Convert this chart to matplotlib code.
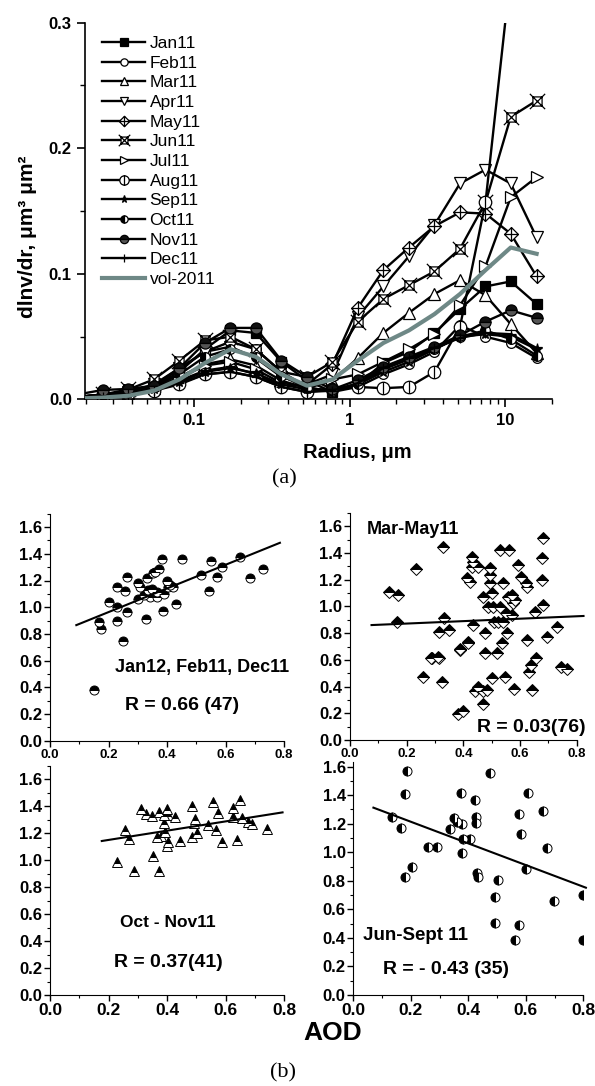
import numpy as np
import matplotlib
matplotlib.use('Agg')
import matplotlib.pyplot as plt
from matplotlib.path import Path
from matplotlib.ticker import MultipleLocator, LogLocator, NullFormatter, FixedLocator

plt.rcParams['font.family'] = ['Liberation Sans', 'DejaVu Sans']

# ---- (a) volume size distribution ----
radius = [0.0177, 0.0258, 0.0377, 0.0550, 0.0803, 0.117, 0.171, 0.249, 0.364, 0.532,
          0.776, 1.13, 1.65, 2.41, 3.52, 5.14, 7.50, 10.9, 16.0]

jan11 = [0.002, 0.004, 0.006, 0.010, 0.022, 0.040, 0.055, 0.053, 0.030, 0.015, 0.006,
         0.012, 0.029, 0.038, 0.053, 0.072, 0.090, 0.094, 0.076]
feb11 = [0.002, 0.004, 0.006, 0.011, 0.024, 0.038, 0.046, 0.040, 0.022, 0.010, 0.006,
         0.010, 0.020, 0.028, 0.038, 0.059, 0.050, 0.045, 0.033]
mar11 = [0.002, 0.003, 0.005, 0.009, 0.018, 0.028, 0.032, 0.027, 0.015, 0.009, 0.015,
         0.033, 0.053, 0.069, 0.084, 0.095, 0.083, 0.060, 0.037]
apr11 = [0.002, 0.004, 0.006, 0.012, 0.025, 0.038, 0.042, 0.033, 0.018, 0.012, 0.020,
         0.066, 0.090, 0.114, 0.139, 0.172, 0.183, 0.172, 0.129]
may11 = [0.002, 0.003, 0.005, 0.008, 0.015, 0.023, 0.026, 0.020, 0.011, 0.012, 0.028,
         0.073, 0.103, 0.121, 0.138, 0.149, 0.148, 0.132, 0.098]
jun11 = [0.002, 0.004, 0.008, 0.016, 0.031, 0.047, 0.050, 0.040, 0.022, 0.018, 0.030,
         0.062, 0.080, 0.091, 0.102, 0.120, 0.157, 0.225, 0.238]
jul11 = [0.002, 0.003, 0.005, 0.009, 0.017, 0.027, 0.030, 0.024, 0.013, 0.010, 0.016,
         0.020, 0.030, 0.040, 0.052, 0.075, 0.106, 0.161, 0.177]
aug11 = [0.001, 0.002, 0.004, 0.007, 0.012, 0.020, 0.022, 0.018, 0.010, 0.006, 0.008,
         0.010, 0.009, 0.010, 0.022, 0.058, 0.157, 0.340, 0.450]
sep11 = [0.002, 0.003, 0.005, 0.008, 0.014, 0.022, 0.025, 0.021, 0.012, 0.008, 0.008,
         0.012, 0.022, 0.030, 0.040, 0.050, 0.052, 0.050, 0.040]
oct11 = [0.002, 0.004, 0.006, 0.010, 0.020, 0.034, 0.040, 0.034, 0.019, 0.009, 0.007,
         0.012, 0.024, 0.032, 0.040, 0.050, 0.055, 0.048, 0.035]
nov11 = [0.004, 0.0076, 0.0084, 0.011, 0.025, 0.045, 0.057, 0.057, 0.031, 0.018, 0.008,
         0.0155, 0.026, 0.034, 0.042, 0.051, 0.062, 0.071, 0.065]
dec11 = [0.001, 0.002, 0.004, 0.007, 0.013, 0.020, 0.022, 0.018, 0.010, 0.006, 0.007,
         0.013, 0.025, 0.033, 0.041, 0.049, 0.053, 0.052, 0.041]
vol2011 = [0.0008, 0.0015, 0.003, 0.007, 0.016, 0.029, 0.040, 0.034, 0.020, 0.011, 0.016,
           0.031, 0.045, 0.055, 0.068, 0.084, 0.103, 0.121, 0.116]

month_names = ['Jan11', 'Feb11', 'Mar11', 'Apr11', 'May11', 'Jun11',
               'Jul11', 'Aug11', 'Sep11', 'Oct11', 'Nov11', 'Dec11']
month_vals = [jan11, feb11, mar11, apr11, may11, jun11,
              jul11, aug11, sep11, oct11, nov11, dec11]

# ---- (b) scatter panels ----
p1_aod = [0.169, 0.173, 0.203, 0.228, 0.23, 0.23, 0.249, 0.256, 0.264, 0.262, 0.301, 0.301,
          0.308, 0.328, 0.333, 0.336, 0.342, 0.348, 0.353, 0.374, 0.367, 0.365, 0.382, 0.385,
          0.399, 0.404, 0.419, 0.431, 0.45, 0.516, 0.543, 0.551, 0.57, 0.587, 0.65, 0.684,
          0.729, 0.152, 0.32, 0.39, 0.41, 0.36]
p1_val = [0.886, 0.836, 1.036, 1.148, 0.998, 0.894, 0.744, 1.118, 1.228, 0.961, 1.178, 1.061,
          1.148, 0.911, 1.218, 1.129, 1.073, 1.136, 1.253, 1.286, 1.111, 1.073, 1.361, 0.969,
          1.199, 1.148, 1.148, 1.024, 1.361, 1.243, 1.124, 1.343, 1.228, 1.298, 1.378, 1.218,
          1.286, 0.38, 1.09, 1.10, 1.17, 1.26]
p1_fit = [0.886, 0.786]
p1_span = [0.09, 0.786]

p2_aod = [0.139, 0.171, 0.165, 0.233, 0.327, 0.332, 0.315, 0.351, 0.288, 0.314, 0.388, 0.412,
          0.424, 0.418, 0.429, 0.433, 0.429, 0.433, 0.453, 0.476, 0.471, 0.476, 0.494, 0.494,
          0.5, 0.488, 0.506, 0.508, 0.494, 0.529, 0.562, 0.541, 0.529, 0.524, 0.541, 0.551,
          0.553, 0.559, 0.571, 0.574, 0.582, 0.571, 0.535, 0.518, 0.594, 0.602, 0.621, 0.626,
          0.624, 0.653, 0.682, 0.676, 0.676, 0.682, 0.694, 0.729,
          0.256, 0.285, 0.312, 0.324, 0.388, 0.418, 0.382, 0.4, 0.441, 0.453, 0.468, 0.482,
          0.471, 0.5, 0.547, 0.579, 0.633, 0.638, 0.656, 0.641, 0.744, 0.767]
p2_val = [1.111, 1.086, 0.886, 1.278, 1.448, 0.916, 0.811, 0.824, 0.612, 0.612, 0.674, 1.211,
          1.186, 0.737, 1.373, 1.336, 1.298, 0.861, 1.298, 0.649, 1.074, 0.799, 1.286, 1.236,
          1.099, 0.999, 0.999, 0.886, 1.174, 1.423, 1.423, 1.174, 0.999, 0.886, 0.886, 0.949,
          0.799, 1.074, 1.086, 1.024, 1.049, 0.936, 0.724, 0.649, 1.311, 1.223, 1.174, 1.149,
          0.749, 0.961, 1.511, 1.361, 1.199, 1.011, 0.774, 0.849,
          0.469, 0.612, 0.619, 0.437, 0.679, 0.729, 0.195, 0.22, 0.37, 0.395, 0.37, 0.375,
          0.27, 0.462, 0.469, 0.38, 0.507, 0.562, 0.612, 0.375, 0.549, 0.532]
p2_fit = [0.091, 0.854]
p2_span = [0.076, 0.824]

p3_aod = [0.228, 0.256, 0.271, 0.288, 0.31, 0.328, 0.348, 0.351, 0.374, 0.374, 0.378, 0.39,
          0.393, 0.401, 0.405, 0.399, 0.405, 0.427, 0.444, 0.484, 0.484, 0.496, 0.492, 0.504,
          0.541, 0.558, 0.567, 0.575, 0.587, 0.624, 0.627, 0.64, 0.65, 0.655, 0.678, 0.689,
          0.741, 0.365, 0.39]
p3_val = [0.988, 1.222, 1.153, 0.919, 1.378, 1.338, 1.326, 1.03, 1.353, 0.919, 1.178, 1.272,
          1.21, 1.375, 1.333, 1.104, 1.136, 1.316, 1.143, 1.4, 1.168, 1.301, 1.277, 1.202,
          1.259, 1.432, 1.222, 1.346, 1.136, 1.383, 1.321, 1.148, 1.444, 1.309, 1.284, 1.267,
          1.227, 1.17, 1.33]
p3_fit = [0.343, 1.080]
p3_span = [0.177, 0.795]

p4_aod = [0.133, 0.166, 0.18, 0.188, 0.18, 0.203, 0.261, 0.292, 0.336, 0.351, 0.362, 0.373,
          0.377, 0.38, 0.377, 0.406, 0.423, 0.427, 0.427, 0.431, 0.435, 0.475, 0.504, 0.493,
          0.493, 0.562, 0.577, 0.577, 0.582, 0.601, 0.609, 0.661, 0.672, 0.699, 0.8, 0.798]
p4_val = [1.25, 1.168, 1.407, 1.572, 0.825, 0.895, 1.04, 1.035, 1.161, 1.238, 1.215, 1.414,
          1.199, 1.093, 0.993, 1.093, 1.367, 1.245, 1.208, 0.857, 0.825, 1.554, 0.806, 0.689,
          0.502, 0.386, 0.491, 1.269, 1.128, 0.886, 1.414, 1.29, 1.033, 0.659, 0.701, 0.386]
p4_fit = [-0.759, 1.366]
p4_span = [0.07, 0.809]

W, H = 595, 1086
fig = plt.figure(figsize=(W / 100, H / 100), dpi=100)


def rect(l, r, top, bot):
    return [l / W, 1 - bot / H, (r - l) / W, (bot - top) / H]


# custom marker shapes
MV, LN, CL = Path.MOVETO, Path.LINETO, Path.CLOSEPOLY
plus_p = Path([[-1, 0], [1, 0], [0, -1], [0, 1]], [MV, LN, MV, LN])
x_p = Path([[-1, -1], [1, 1], [-1, 1], [1, -1]], [MV, LN, MV, LN])
vbar_p = Path([[0, -1], [0, 1]], [MV, LN])
sq_p = Path([[-0.6, -0.6], [0.6, -0.6], [0.6, 0.6], [-0.6, 0.6], [-0.6, -0.6]], [MV, LN, LN, LN, CL])
diamond_plus = Path.make_compound_path(Path.unit_regular_polygon(4), plus_p)
square_x = Path.make_compound_path(sq_p, x_p)
circle_bar = Path.make_compound_path(Path.unit_circle(), vbar_p)

styles = [
    dict(marker='s', mfc='black', ms=7),
    dict(marker='o', mfc='white', ms=7),
    dict(marker='^', mfc='white', ms=8),
    dict(marker='v', mfc='white', ms=8),
    dict(marker=diamond_plus, mfc='white', ms=10),
    dict(marker=square_x, mfc='white', ms=11),
    dict(marker='>', mfc='white', ms=8),
    dict(marker=circle_bar, mfc='white', ms=9),
    dict(marker='*', mfc='black', ms=7),
    dict(marker='o', mfc='black', fillstyle='left', markerfacecoloralt='white', ms=7),
    dict(marker='o', mfc='#111111', fillstyle='top', markerfacecoloralt='#555555', ms=8),
    dict(marker='+', mfc='black', ms=7),
]

ax = fig.add_axes(rect(85, 552, 22.7, 399.5))
for name, vals, st in zip(month_names, month_vals, styles):
    ax.plot(radius, vals, color='black', lw=1.7, mec='black', mew=0.9, label=name, **st)
ax.plot(radius, vol2011, color='#6e8886', lw=3.0, label='vol-2011', zorder=5)
ax.set_xscale('log')
ax.set_xlim(0.0198, 20.1)
ax.set_ylim(0, 0.3)
ax.spines['top'].set_visible(False)
ax.spines['right'].set_visible(False)
ax.yaxis.set_major_locator(MultipleLocator(0.1))
ax.yaxis.set_minor_locator(MultipleLocator(0.05))
ax.yaxis.set_major_formatter(plt.FormatStrFormatter('%.1f'))
ax.xaxis.set_major_locator(FixedLocator([0.1, 1, 10]))
ax.xaxis.set_major_formatter(plt.FuncFormatter(lambda v, p: '%g' % v))
ax.xaxis.set_minor_locator(LogLocator(base=10, subs=np.arange(2, 10)))
ax.xaxis.set_minor_formatter(NullFormatter())
ax.tick_params(which='major', direction='out', length=6, width=1.2, labelsize=12)
ax.tick_params(which='minor', direction='out', length=3.5, width=1.0)
for lab in ax.get_xticklabels() + ax.get_yticklabels():
    lab.set_fontweight('bold')
for sp in ['left', 'bottom']:
    ax.spines[sp].set_linewidth(1.2)
leg = ax.legend(loc='upper left', bbox_to_anchor=(0.036, 0.965), frameon=False, fontsize=12.5,
                handlelength=2.5, handletextpad=0.25, labelspacing=0.26, borderaxespad=0,
                numpoints=1, borderpad=0, markerscale=0.75)
fig.text(28 / W, 1 - 237 / H, 'dlnv/dr, μm³ μm²', rotation=90, ha='center', va='center',
         fontsize=15, fontweight='bold')
fig.text(357 / W, 1 - 452 / H, 'Radius, μm', ha='center', va='center', fontsize=14.5,
         fontweight='bold')
fig.text(284 / W, 1 - 479 / H, '(a)', ha='center', va='center', fontsize=16,
         family='Liberation Serif')
fig.text(283 / W, 1 - 1073 / H, '(b)', ha='center', va='center', fontsize=16,
         family='Liberation Serif')
fig.text(333 / W, 1 - 1033 / H, 'AOD', ha='center', va='center', fontsize=19,
         fontweight='bold')


def panel(r, xs, ys, fit, span, ytop, mk, fs, xlab_size):
    a = fig.add_axes(r)
    a.plot(xs, ys, linestyle='none', marker=mk, ms=6.5, mfc='black', mec='black', mew=0.7,
           fillstyle=fs, markerfacecoloralt='white')
    lx = np.array(span)
    a.plot(lx, fit[0] * lx + fit[1], color='black', lw=1.5, clip_on=False)
    a.set_xlim(0, 0.8)
    a.set_ylim(0, ytop)
    a.spines['top'].set_visible(False)
    a.spines['right'].set_visible(False)
    a.xaxis.set_major_locator(MultipleLocator(0.2))
    a.xaxis.set_minor_locator(MultipleLocator(0.1))
    a.yaxis.set_major_locator(MultipleLocator(0.2))
    a.yaxis.set_minor_locator(MultipleLocator(0.1))
    a.xaxis.set_major_formatter(plt.FormatStrFormatter('%.1f'))
    a.yaxis.set_major_formatter(plt.FormatStrFormatter('%.1f'))
    a.tick_params(which='major', direction='out', length=4, width=1.0)
    a.tick_params(which='minor', direction='out', length=2.5, width=0.8)
    a.tick_params(axis='y', labelsize=12, pad=1.5)
    a.tick_params(axis='x', labelsize=xlab_size, pad=2)
    for lab in a.get_xticklabels() + a.get_yticklabels():
        lab.set_fontweight('bold')
    return a


a1 = panel(rect(50, 284, 740.7 - 1.7 * 133.5, 740.7), p1_aod, p1_val, p1_fit, p1_span, 1.7,
           'o', 'top', 9.5)
a1.text(0.222, 0.552, 'Jan12, Feb11, Dec11', fontsize=13, fontweight='bold', va='center')
a1.text(0.256, 0.267, 'R = 0.66 (47)', fontsize=14, fontweight='bold', va='center')

a2 = panel(rect(350, 576.7, 740 - 1.7 * 133.5, 740), p2_aod, p2_val, p2_fit, p2_span, 1.7,
           'D', 'top', 9.5)
a2.text(0.06, 1.58, 'Mar-May11', fontsize=13, fontweight='bold', va='center')
a2.text(0.83, 0.097, 'R = 0.03(76)', fontsize=14, fontweight='bold', va='center', ha='right')

a3 = panel(rect(50, 284, 995 - 1.7 * 135, 995), p3_aod, p3_val, p3_fit, p3_span, 1.7,
           '^', 'top', 12.5)
a3.text(0.403, 0.54, 'Oct - Nov11', fontsize=12.5, fontweight='bold', va='center', ha='center')
a3.text(0.403, 0.244, 'R = 0.37(41)', fontsize=14, fontweight='bold', va='center', ha='center')

a4 = panel(rect(353.3, 583.3, 995 - 1.63 * 142.7, 995), p4_aod, p4_val, p4_fit, p4_span, 1.63,
           'o', 'left', 12.5)
a4.text(0.034, 0.42, 'Jun-Sept 11', fontsize=13.5, fontweight='bold', va='center')
a4.text(0.104, 0.18, 'R = - 0.43 (35)', fontsize=14, fontweight='bold', va='center')

fig.savefig('out.png', dpi=100)
